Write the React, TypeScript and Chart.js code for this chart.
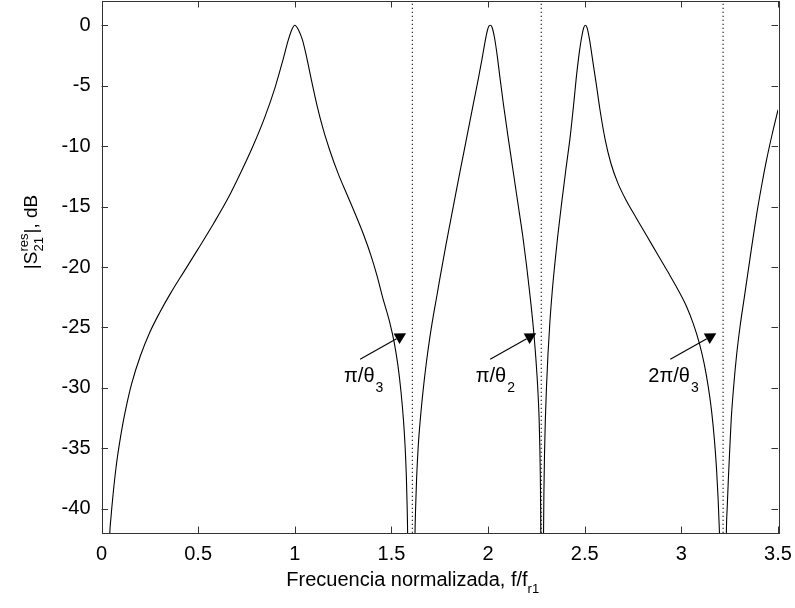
import React, { useEffect, useRef } from "react";
import { Chart, registerables } from "chart.js";

Chart.register(...registerables);

// Normalised frequency f/fr1 and |S21res| in dB (null = break at a transmission zero)
const freq: number[] = [
  // branch 1 (0 .. first zero)
  0.04, 0.043, 0.048, 0.06, 0.075, 0.09, 0.11, 0.13, 0.155, 0.2, 0.25, 0.3, 0.36, 0.43, 0.5, 0.58, 0.655, 0.72, 0.785,
  0.845, 0.897, 0.94, 0.965, 0.985, 1.0, 1.018, 1.04, 1.062, 1.087, 1.113, 1.145, 1.18, 1.225, 1.27, 1.315, 1.36,
  1.395, 1.425, 1.456, 1.49, 1.515, 1.535, 1.55, 1.562, 1.571, 1.577, 1.581, 1.584, 1.585,
  1.605,
  // branch 2
  1.6205, 1.622, 1.625, 1.63, 1.638, 1.65, 1.664, 1.68, 1.698, 1.716, 1.735, 1.75, 1.784, 1.82, 1.856, 1.892,
  1.925, 1.95, 1.972, 1.99, 2.002, 2.011, 2.02, 2.033, 2.048, 2.062, 2.08, 2.104, 2.13, 2.155, 2.18, 2.2, 2.218,
  2.234, 2.247, 2.257, 2.264, 2.268, 2.2705, 2.272, 2.273, 2.2735,
  2.28,
  // branch 3
  2.2865, 2.287, 2.289, 2.292, 2.296, 2.302, 2.31, 2.32, 2.332, 2.345, 2.36, 2.38, 2.402, 2.425, 2.445, 2.456,
  2.47, 2.483, 2.495, 2.503, 2.512, 2.525, 2.542, 2.56, 2.58, 2.605, 2.635, 2.67, 2.715, 2.765, 2.82, 2.875,
  2.93, 2.98, 3.025, 3.062, 3.093, 3.118, 3.139, 3.157, 3.171, 3.182, 3.19, 3.196, 3.199, 3.2,
  3.216,
  // branch 4
  3.232, 3.233, 3.237, 3.243, 3.25, 3.258, 3.27, 3.285, 3.303, 3.324, 3.345, 3.367, 3.39, 3.415, 3.44, 3.47, 3.5,
];
const s21: (number | null)[] = [
  -44, -42, -40.9, -38.8, -36.6, -34.9, -33.0, -31.4, -29.7, -27.4, -25.4, -23.8, -22.1, -20.3, -18.5, -16.4, -14.3, -12.2, -9.95,
  -7.6, -5.2, -2.8, -1.3, -0.35, 0, -0.35, -1.24, -2.7, -4.6, -6.5, -8.5, -10.3, -12.3, -14.0, -15.7, -17.5,
  -19.1, -20.7, -22.6, -24.5, -26.3, -28.3, -30.4, -32.6, -34.9, -37.2, -39.6, -42.2, -44,
  null,
  -44, -42, -40, -37.6, -35, -32.5, -30.2, -28, -25.9, -24.1, -22.4, -21.0, -18.0, -15.0, -12.0, -9.1,
  -6.4, -4.4, -2.5, -0.9, -0.15, 0, -0.15, -1.0, -2.6, -4.4, -6.6, -9.3, -12.1, -14.8, -17.5, -20.0, -22.5,
  -25.0, -27.5, -30.0, -32.5, -35, -37.5, -40, -42.5, -44,
  null,
  -44, -42, -38.5, -35.5, -32.8, -30, -27.2, -24.5, -22, -19.8, -17.5, -14.8, -12, -9.2, -6.2, -4.4,
  -2.5, -1.1, -0.2, 0, -0.2, -1.2, -3.0, -4.9, -7.1, -9.4, -11.4, -13.0, -14.5, -15.9, -17.4, -18.9,
  -20.4, -21.8, -23.2, -24.7, -26.3, -28.0, -29.9, -32.0, -34.3, -36.7, -39.1, -41.5, -43, -44,
  null,
  -44, -42, -40, -37.6, -35.2, -32.6, -30, -27.4, -25, -22.7, -20.4, -18.0, -15.6, -13.3, -11.2, -9.0, -7.0,
];

// Transmission-zero markers (dotted vertical lines)
const zeroFreqs: number[] = [1.608, 2.275, 3.216];

// Annotation labels: main text, subscript, and anchor/arrow in data units
const labelMain: string[] = ["π/θ", "π/θ", "2π/θ"];
const labelSub: string[] = ["3", "2", "3"];
const labelX: number[] = [1.255, 1.936, 2.829];
const labelY: number[] = [-29.5, -29.5, -29.5];
const arrowFromX: number[] = [1.338, 2.011, 2.943];
const arrowFromY: number[] = [-27.63, -27.63, -27.63];
const arrowToX: number[] = [1.576, 2.249, 3.181];
const arrowToY: number[] = [-25.48, -25.48, -25.48];

const xTicks: number[] = [0, 0.5, 1, 1.5, 2, 2.5, 3, 3.5];
const yTicks: number[] = [0, -5, -10, -15, -20, -25, -30, -35, -40];

const FONT = "'Liberation Sans', Arial, Helvetica, sans-serif";

const decorPlugin = {
  id: "decor",
  beforeDatasetsDraw(chart: any) {
    const { ctx, chartArea: a } = chart;
    ctx.save();
    ctx.strokeStyle = "#333";
    ctx.lineWidth = 1;
    const xs = chart.scales.x;
    const ys = chart.scales.y;
    const L = 6.5;
    ctx.beginPath();
    for (const t of xTicks) {
      const px = Math.round(xs.getPixelForValue(t)) + 0.5;
      ctx.moveTo(px, a.bottom);
      ctx.lineTo(px, a.bottom - L);
      ctx.moveTo(px, a.top);
      ctx.lineTo(px, a.top + L);
    }
    for (const t of yTicks) {
      const py = Math.round(ys.getPixelForValue(t)) + 0.5;
      ctx.moveTo(a.left, py);
      ctx.lineTo(a.left + L, py);
      ctx.moveTo(a.right, py);
      ctx.lineTo(a.right - L, py);
    }
    ctx.stroke();
    ctx.restore();
  },
  afterDraw(chart: any) {
    const { ctx, chartArea: a } = chart;
    const xs = chart.scales.x;
    const ys = chart.scales.y;
    ctx.save();
    // box
    ctx.strokeStyle = "#333";
    ctx.lineWidth = 1;
    ctx.strokeRect(Math.round(a.left) + 0.5, Math.round(a.top) + 0.5, Math.round(a.right - a.left), Math.round(a.bottom - a.top));

    // arrows + labels
    ctx.fillStyle = "#000";
    ctx.strokeStyle = "#000";
    for (let i = 0; i < labelMain.length; i++) {
      const x0 = xs.getPixelForValue(arrowFromX[i]);
      const y0 = ys.getPixelForValue(arrowFromY[i]);
      const x1 = xs.getPixelForValue(arrowToX[i]);
      const y1 = ys.getPixelForValue(arrowToY[i]);
      const ang = Math.atan2(y1 - y0, x1 - x0);
      const hl = 11, hw = 6;
      const bx = x1 - hl * Math.cos(ang);
      const by = y1 - hl * Math.sin(ang);
      ctx.lineWidth = 1.1;
      ctx.beginPath();
      ctx.moveTo(x0, y0);
      ctx.lineTo(bx, by);
      ctx.stroke();
      ctx.beginPath();
      ctx.moveTo(x1, y1);
      ctx.lineTo(bx + hw * Math.sin(ang), by - hw * Math.cos(ang));
      ctx.lineTo(bx - hw * Math.sin(ang), by + hw * Math.cos(ang));
      ctx.closePath();
      ctx.fill();

      const tx = xs.getPixelForValue(labelX[i]);
      const ty = ys.getPixelForValue(labelY[i]);
      ctx.textBaseline = "alphabetic";
      ctx.textAlign = "left";
      ctx.font = `20px ${FONT}`;
      ctx.fillText(labelMain[i], tx, ty);
      const w = ctx.measureText(labelMain[i]).width;
      ctx.font = `14px ${FONT}`;
      ctx.fillText(labelSub[i], tx + w + 1, ty + 10);
    }

    // x-axis title
    ctx.textBaseline = "alphabetic";
    ctx.textAlign = "left";
    ctx.font = `20px ${FONT}`;
    const xMain = "Frecuencia normalizada, f/f";
    const xSub = "r1";
    const wm = ctx.measureText(xMain).width;
    ctx.font = `13px ${FONT}`;
    const ws = ctx.measureText(xSub).width;
    const cx = (a.left + a.right) / 2 - 27;
    const sx = cx - (wm + ws) / 2;
    const by = 586;
    ctx.font = `20px ${FONT}`;
    ctx.fillText(xMain, sx, by);
    ctx.font = `13px ${FONT}`;
    ctx.fillText(xSub, sx + wm, by + 7);

    // y-axis title (rotated)
    ctx.save();
    ctx.translate(37, 232);
    ctx.rotate(-Math.PI / 2);
    ctx.font = `19px ${FONT}`;
    const p1 = "|S";
    const p3 = "|, dB";
    const w1 = ctx.measureText(p1).width;
    const w3 = ctx.measureText(p3).width;
    ctx.font = `13px ${FONT}`;
    const wsup = ctx.measureText("res").width;
    const wsub = ctx.measureText("21").width;
    const w2 = Math.max(wsup, wsub);
    const total = w1 + w2 + w3;
    let px = -total / 2;
    ctx.font = `19px ${FONT}`;
    ctx.fillText(p1, px, 0);
    px += w1;
    ctx.font = `13px ${FONT}`;
    ctx.fillText("res", px, -9);
    ctx.fillText("21", px, 6);
    px += w2;
    ctx.font = `19px ${FONT}`;
    ctx.fillText(p3, px, 0);
    ctx.restore();

    ctx.restore();
  },
};

export default function App() {
  const ref = useRef<HTMLCanvasElement | null>(null);
  useEffect(() => {
    if (!ref.current) return;
    const curve = freq.map((f, i) => ({ x: f, y: s21[i] }));
    const zeroSets = zeroFreqs.map((z) => ({
      data: [
        { x: z, y: -42 },
        { x: z, y: 2 },
      ],
      borderColor: "#000",
      borderWidth: 1,
      borderDash: [1.3, 2.7],
      pointRadius: 0,
      fill: false,
      order: 2,
    }));
    const chart = new Chart(ref.current, {
      type: "line",
      data: {
        datasets: [
          {
            data: curve as any,
            borderColor: "#000",
            borderWidth: 1.1,
            pointRadius: 0,
            fill: false,
            spanGaps: false,
            cubicInterpolationMode: "monotone",
            order: 1,
          },
          ...(zeroSets as any),
        ],
      },
      options: {
        animation: false,
        responsive: false,
        maintainAspectRatio: false,
        layout: { padding: { left: 0, right: 17, top: 1, bottom: 0 } },
        plugins: { legend: { display: false }, tooltip: { enabled: false } },
        scales: {
          x: {
            type: "linear",
            min: 0,
            max: 3.5,
            afterBuildTicks: (s: any) => {
              s.ticks = xTicks.map((v) => ({ value: v }));
            },
            afterFit: (s: any) => {
              s.height = 75;
              s.paddingLeft = 0;
              s.paddingRight = 0;
              s.paddingTop = 0;
              s.paddingBottom = 0;
            },
            grid: { display: false, drawTicks: false },
            border: { display: false },
            ticks: {
              padding: 9,
              color: "#000",
              font: { family: FONT, size: 20 },
              maxRotation: 0,
              autoSkip: false,
              callback: (v: any) => String(v),
            },
          },
          y: {
            type: "linear",
            min: -42,
            max: 2,
            afterBuildTicks: (s: any) => {
              s.ticks = yTicks.map((v) => ({ value: v }));
            },
            afterFit: (s: any) => {
              s.width = 101.5;
              s.paddingLeft = 0;
              s.paddingRight = 0;
              s.paddingTop = 0;
              s.paddingBottom = 0;
            },
            grid: { display: false, drawTicks: false },
            border: { display: false },
            ticks: {
              padding: 11,
              color: "#000",
              font: { family: FONT, size: 20 },
              autoSkip: false,
              callback: (v: any) => String(v),
            },
          },
        },
      },
      plugins: [decorPlugin],
    });
    return () => chart.destroy();
  }, []);
  return (
    <div style={{ position: "absolute", left: 0, top: 0, width: 795, height: 608, background: "#fff" }}>
      <canvas ref={ref} width={795} height={608} />
    </div>
  );
}
